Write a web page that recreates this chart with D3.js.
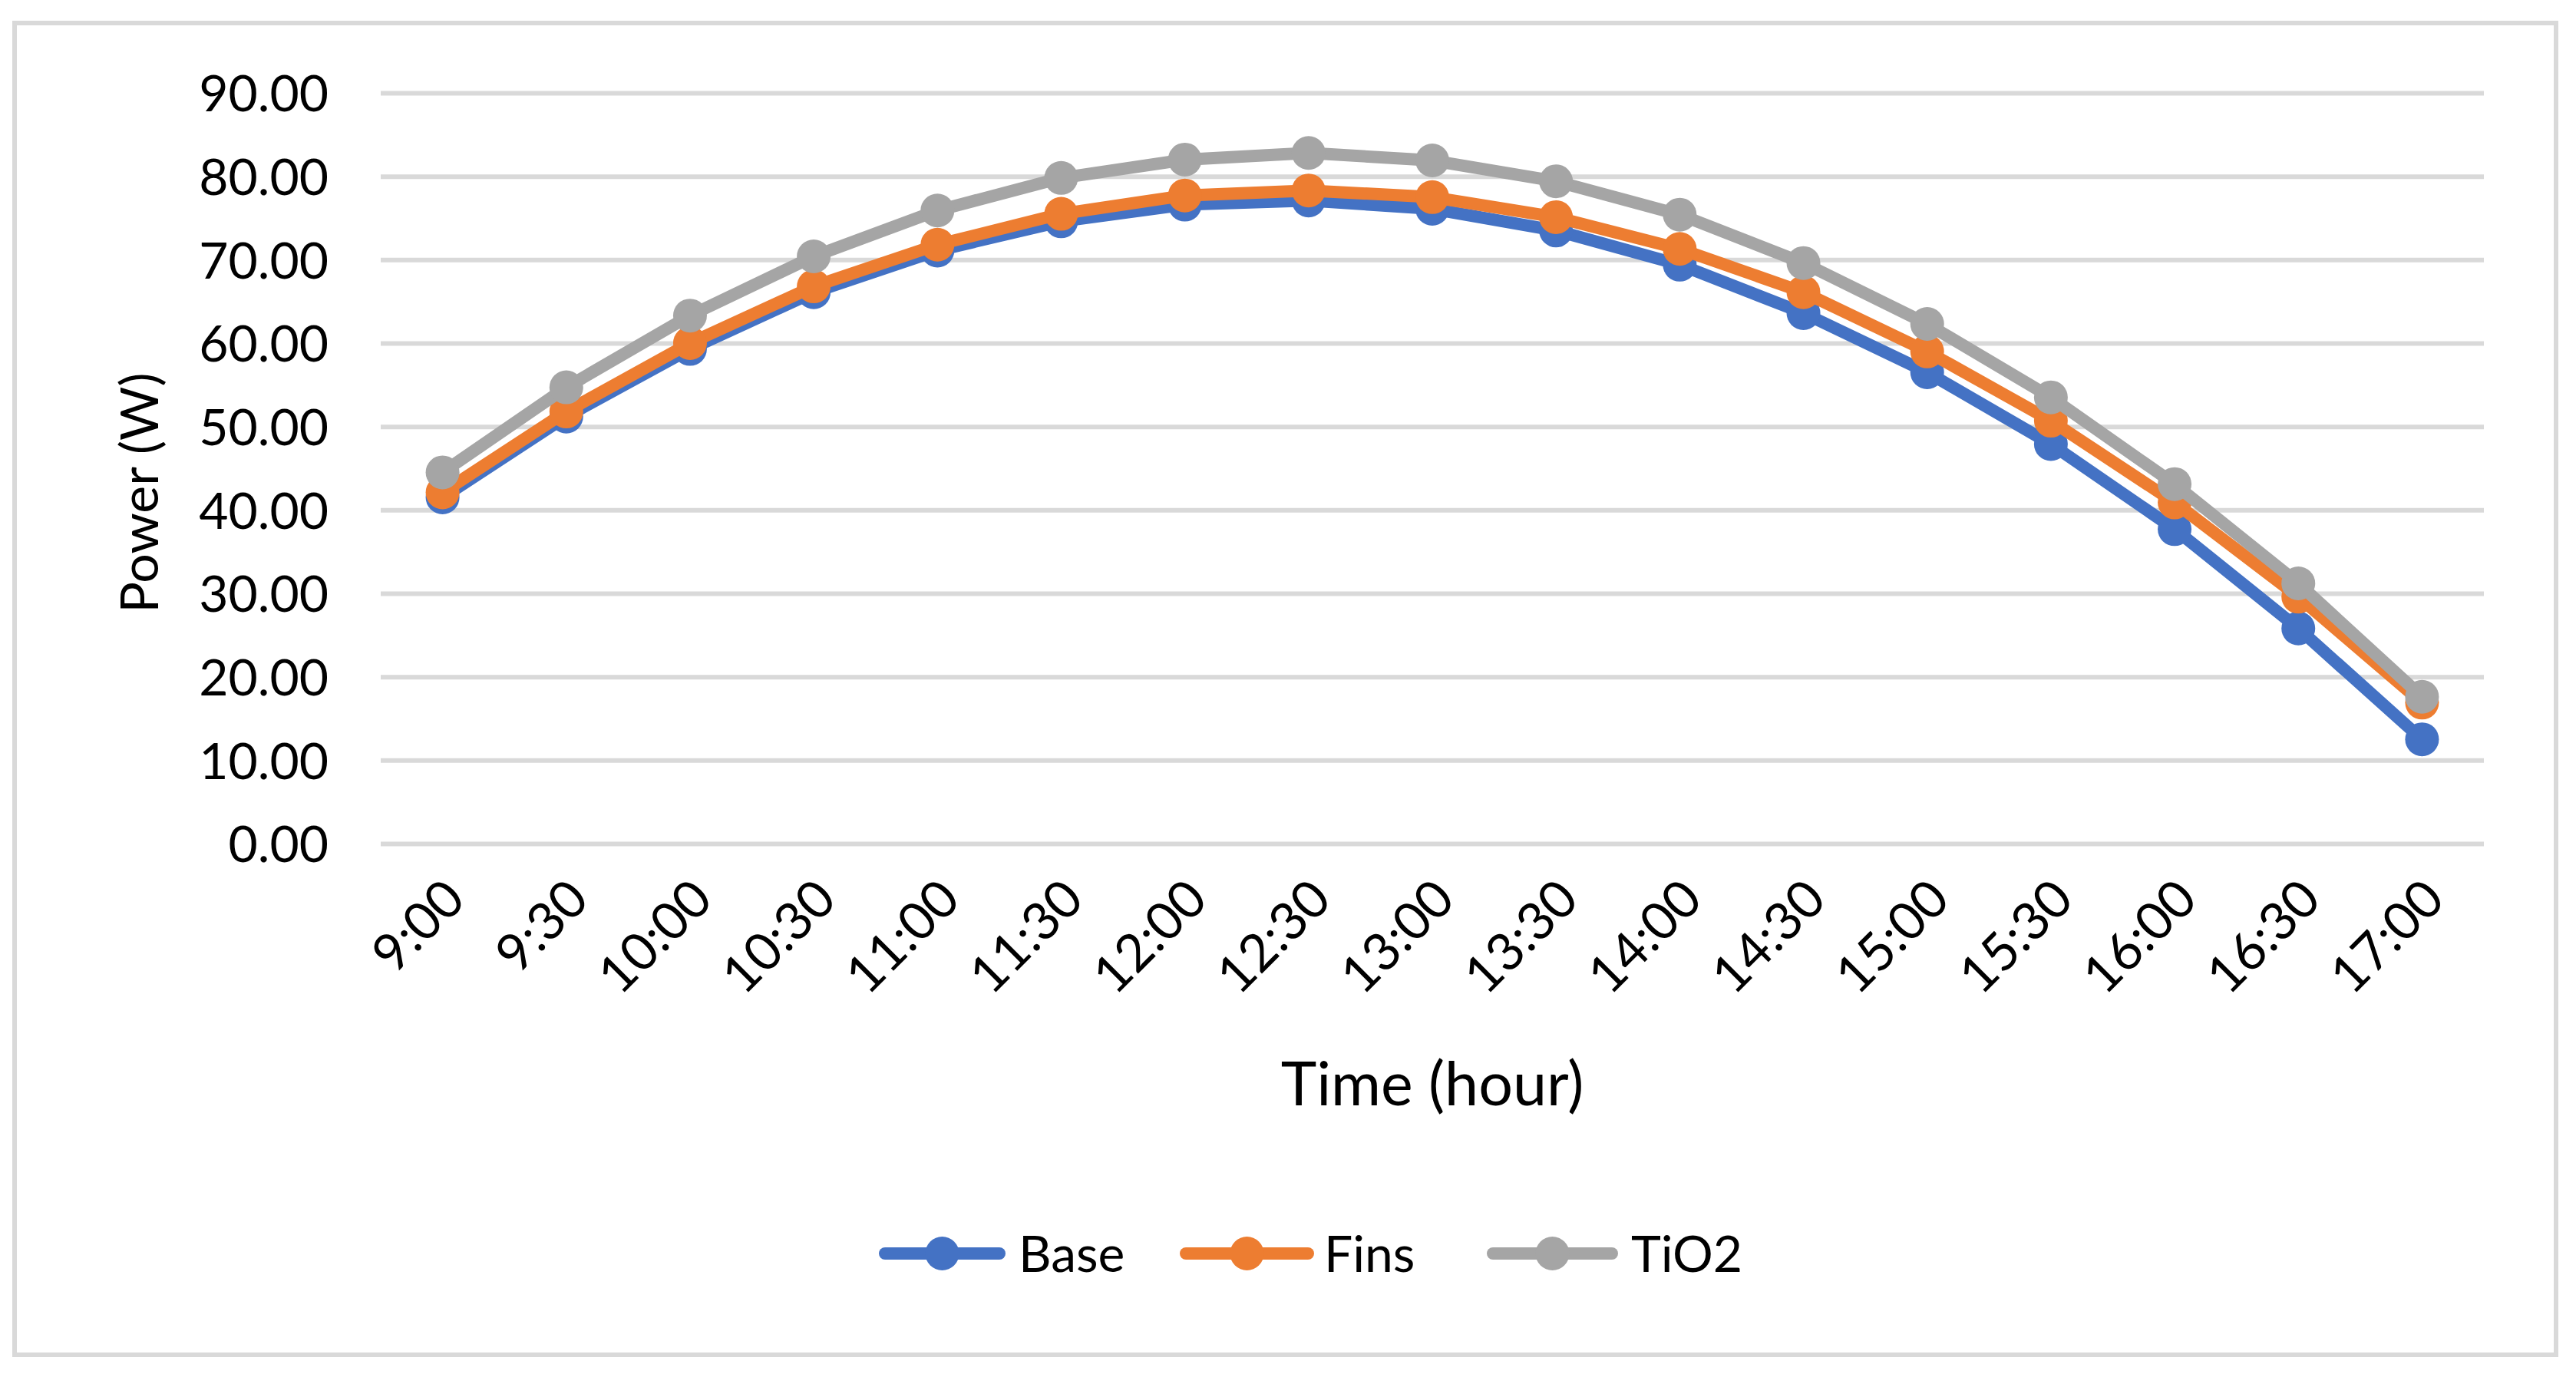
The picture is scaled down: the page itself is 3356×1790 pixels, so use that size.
<!DOCTYPE html>
<html>
<head>
<meta charset="utf-8">
<script src="https://cdn.jsdelivr.net/npm/d3@7"></script>
<style>
  html, body { margin: 0; padding: 0; background: #fff; }
  svg { display: block; }
  text { font-family: Lato, "Open Sans", sans-serif; fill: #000; }
</style>
</head>
<body>
<svg id="chart" width="3356" height="1790"></svg>
<script>
const categories = ["9:00","9:30","10:00","10:30","11:00","11:30","12:00","12:30","13:00","13:30","14:00","14:30","15:00","15:30","16:00","16:30","17:00"];
const baseValues = [41.5, 51.2, 59.3, 66.1, 71.1, 74.6, 76.6, 77.1, 76.1, 73.5, 69.4, 63.6, 56.5, 47.9, 37.7, 25.8, 12.5];
const finsValues = [42.1, 51.8, 60.0, 66.8, 71.8, 75.5, 77.7, 78.3, 77.5, 75.1, 71.3, 66.1, 59.0, 50.7, 40.9, 29.6, 16.9];
const tio2Values = [44.5, 54.7, 63.3, 70.4, 75.9, 79.8, 82.0, 82.8, 81.9, 79.4, 75.4, 69.6, 62.3, 53.5, 43.1, 31.2, 17.6];
const seriesNames = ["Base", "Fins", "TiO2"];
const seriesColors = ["#4472C4", "#ED7D31", "#A5A5A5"];
const yTicks = [0, 10, 20, 30, 40, 50, 60, 70, 80, 90];
const xTitle = "Time (hour)";
const yTitle = "Power (W)";

(function () {
const series = [baseValues, finsValues, tio2Values].map((v, i) => ({ name: seriesNames[i], color: seriesColors[i], values: v }));

const svg = d3.select("#chart");
const pLeft = 496, pRight = 3236, pTop = 121, pBottom = 1099;

// outer border
svg.append("rect").attr("x", 19).attr("y", 30).attr("width", 3311).attr("height", 1735)
  .attr("fill", "#fff").attr("stroke", "#D9D9D9").attr("stroke-width", 6);

const x = d3.scalePoint().domain(categories).range([pLeft, pRight]).padding(0.5);
const y = d3.scaleLinear().domain([0, 90]).range([pBottom, pTop]);

// gridlines via axis
const yAxis = d3.axisLeft(y).tickValues(yTicks).tickSize(-(pRight - pLeft)).tickFormat(d => d3.format(".2f")(d)).tickPadding(68);
const gy = svg.append("g").attr("transform", `translate(${pLeft},0)`).call(yAxis);
gy.select(".domain").remove();
gy.selectAll(".tick line").attr("stroke", "#D9D9D9").attr("stroke-width", 6);
gy.selectAll(".tick text").attr("font-size", 66).attr("font-family", "Lato").attr("fill", "#000").attr("dy", "0.36em");

// x axis labels
const xAxis = d3.axisBottom(x).tickSize(0).tickPadding(0);
const gx = svg.append("g").attr("transform", `translate(0,${pBottom})`).call(xAxis);
gx.select(".domain").remove();
gx.selectAll(".tick text")
  .attr("font-size", 68).attr("font-family", "Lato").attr("fill", "#000")
  .attr("text-anchor", "end")
  .attr("dy", "0")
  .attr("transform", "translate(32,76) rotate(-45)");

// lines
const line = d3.line().x((d, i) => x(categories[i])).y(d => y(d));
series.forEach(s => {
  const g = svg.append("g");
  g.append("path").datum(s.values).attr("d", line).attr("fill", "none")
    .attr("stroke", s.color).attr("stroke-width", 16).attr("stroke-linejoin", "round");
  g.selectAll("circle").data(s.values).join("circle")
    .attr("cx", (d, i) => x(categories[i])).attr("cy", d => y(d)).attr("r", 22)
    .attr("fill", s.color);
});

// axis titles
svg.append("text").attr("x", (pLeft + pRight) / 2).attr("y", 1440).attr("text-anchor", "middle")
  .attr("font-size", 79).text(xTitle);
svg.append("text").attr("transform", `translate(206,642) rotate(-90)`).attr("text-anchor", "middle")
  .attr("font-size", 68).text(yTitle);

// legend
const legendY = 1633;
const legendItems = [
  { lx: 1145, rx: 1310, tx: 1327 },
  { lx: 1537, rx: 1712, tx: 1725 },
  { lx: 1937, rx: 2108, tx: 2125 }
];
series.forEach((s, i) => {
  const it = legendItems[i];
  const g = svg.append("g");
  g.append("line").attr("x1", it.lx + 8).attr("x2", it.rx - 8).attr("y1", legendY).attr("y2", legendY)
    .attr("stroke", s.color).attr("stroke-width", 16).attr("stroke-linecap", "round");
  g.append("circle").attr("cx", (it.lx + it.rx) / 2).attr("cy", legendY).attr("r", 22).attr("fill", s.color);
  g.append("text").attr("x", it.tx).attr("y", legendY).attr("dy", "0.36em").attr("font-size", 66).text(s.name);
});
})();
</script>
</body>
</html>
